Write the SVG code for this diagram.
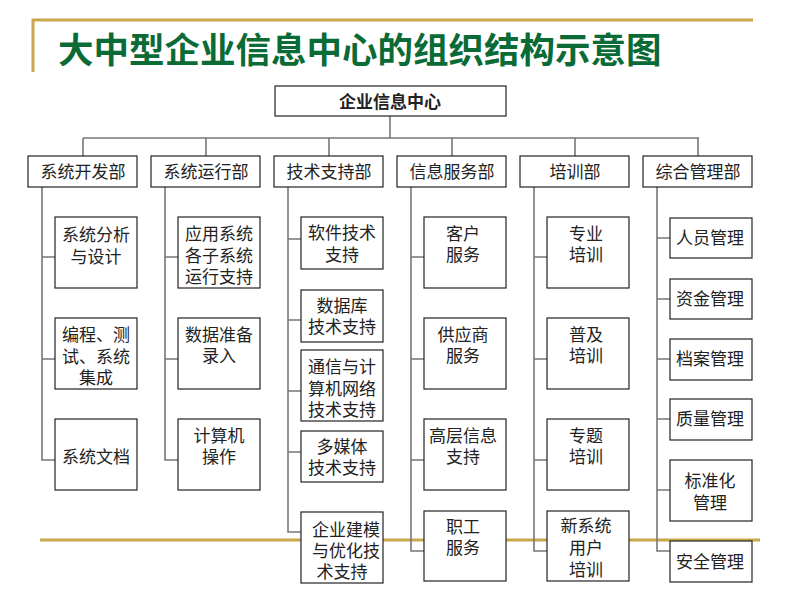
<svg xmlns="http://www.w3.org/2000/svg" width="800" height="600" viewBox="0 0 800 600">
<style>
.b{fill:#fff;stroke:#222;stroke-width:1.2}
.c{fill:none;stroke:#777;stroke-width:1.6}
.t{font-family:"Liberation Sans","Noto Sans CJK SC",sans-serif;font-size:17px;fill:#222;text-anchor:middle}
.g{stroke:#c8a84a;stroke-width:3;fill:none}
</style>
<rect width="800" height="600" fill="#fff"/>
<path class="g" d="M33,72V20H753M40,540H760"/>
<text x="58" y="63" font-family="'Noto Sans CJK SC',sans-serif" font-weight="bold" font-size="35.5" fill="#0a6b36">大中型企业信息中心的组织结构示意图</text>
<g id="connectors">
<path class="c" d="M390,116V138M83,138H699M83,138V156M206,138V156M329,138V156M452,138V156M575,138V156M698,138V156"/>
<path class="c" d="M42,187V460H55M42,257H55M42,359H55"/>
<path class="c" d="M165,187V460H178M165,257H178M165,359H178"/>
<path class="c" d="M288,187V532H301M288,239H301M288,320H301M288,391H301M288,452H301"/>
<path class="c" d="M411,187V551H424M411,257H424M411,359H424M411,460H424"/>
<path class="c" d="M534,187V551H547M534,257H547M534,359H547M534,460H547"/>
<path class="c" d="M657,187V551H670M657,238H670M657,299H670M657,359H670M657,419H670M657,490H670"/>
</g>
<g id="root"><rect class="b" x="275" y="86" width="231" height="30"/><text class="t" x="390" y="108" font-size="19" font-weight="bold">企业信息中心</text></g>
<g id="d1"><rect class="b" x="28" y="156" width="109" height="31"/><text class="t" x="83" y="178">系统开发部</text></g>
<g id="d2"><rect class="b" x="151" y="156" width="109" height="31"/><text class="t" x="206" y="178">系统运行部</text></g>
<g id="d3"><rect class="b" x="274" y="156" width="109" height="31"/><text class="t" x="329" y="178">技术支持部</text></g>
<g id="d4"><rect class="b" x="397" y="156" width="109" height="31"/><text class="t" x="452" y="178">信息服务部</text></g>
<g id="d5"><rect class="b" x="520" y="156" width="109" height="31"/><text class="t" x="575" y="178">培训部</text></g>
<g id="d6"><rect class="b" x="643" y="156" width="109" height="31"/><text class="t" x="698" y="178">综合管理部</text></g>

<g id="n11"><rect class="b" x="55" y="217" width="82" height="71"/><text class="t" x="96" y="241">系统分析</text><text class="t" x="96" y="263">与设计</text></g>
<g id="n12"><rect class="b" x="55" y="318" width="82" height="71"/><text class="t" x="96" y="341">编程、测</text><text class="t" x="96" y="363">试、系统</text><text class="t" x="96" y="384">集成</text></g>
<g id="n13"><rect class="b" x="55" y="419" width="82" height="71"/><text class="t" x="96" y="463">系统文档</text></g>

<g id="n21"><rect class="b" x="178" y="217" width="82" height="71"/><text class="t" x="219" y="240">应用系统</text><text class="t" x="219" y="262">各子系统</text><text class="t" x="219" y="283">运行支持</text></g>
<g id="n22"><rect class="b" x="178" y="318" width="82" height="71"/><text class="t" x="219" y="341">数据准备</text><text class="t" x="219" y="362">录入</text></g>
<g id="n23"><rect class="b" x="178" y="419" width="82" height="71"/><text class="t" x="219" y="442">计算机</text><text class="t" x="219" y="463">操作</text></g>

<g id="n31"><rect class="b" x="301" y="217" width="82" height="52"/><text class="t" x="342" y="239">软件技术</text><text class="t" x="342" y="261">支持</text></g>
<g id="n32"><rect class="b" x="301" y="290" width="82" height="52"/><text class="t" x="342" y="312">数据库</text><text class="t" x="342" y="333">技术支持</text></g>
<g id="n33"><rect class="b" x="301" y="350" width="82" height="71"/><text class="t" x="342" y="373">通信与计</text><text class="t" x="342" y="395">算机网络</text><text class="t" x="342" y="416">技术支持</text></g>
<g id="n34"><rect class="b" x="301" y="431" width="82" height="51"/><text class="t" x="342" y="453">多媒体</text><text class="t" x="342" y="474">技术支持</text></g>
<g id="n35"><rect class="b" x="301" y="512" width="82" height="71"/><text class="t" x="346" y="536">企业建模</text><text class="t" x="346" y="557">与优化技</text><text class="t" x="342" y="578">术支持</text></g>

<g id="n41"><rect class="b" x="424" y="217" width="82" height="71"/><text class="t" x="463" y="240">客户</text><text class="t" x="463" y="261">服务</text></g>
<g id="n42"><rect class="b" x="424" y="318" width="82" height="71"/><text class="t" x="463" y="341">供应商</text><text class="t" x="463" y="362">服务</text></g>
<g id="n43"><rect class="b" x="424" y="419" width="82" height="71"/><text class="t" x="463" y="442">高层信息</text><text class="t" x="463" y="463">支持</text></g>
<g id="n44"><rect class="b" x="424" y="511" width="82" height="70"/><text class="t" x="463" y="533">职工</text><text class="t" x="463" y="554">服务</text></g>

<g id="n51"><rect class="b" x="547" y="217" width="82" height="71"/><text class="t" x="586" y="240">专业</text><text class="t" x="586" y="261">培训</text></g>
<g id="n52"><rect class="b" x="547" y="318" width="82" height="71"/><text class="t" x="586" y="341">普及</text><text class="t" x="586" y="362">培训</text></g>
<g id="n53"><rect class="b" x="547" y="419" width="82" height="71"/><text class="t" x="586" y="442">专题</text><text class="t" x="586" y="463">培训</text></g>
<g id="n54"><rect class="b" x="547" y="511" width="82" height="70"/><text class="t" x="586" y="532">新系统</text><text class="t" x="586" y="554">用户</text><text class="t" x="586" y="576">培训</text></g>

<g id="n61"><rect class="b" x="670" y="218" width="82" height="40"/><text class="t" x="710" y="244">人员管理</text></g>
<g id="n62"><rect class="b" x="670" y="279" width="82" height="40"/><text class="t" x="710" y="305">资金管理</text></g>
<g id="n63"><rect class="b" x="670" y="339" width="82" height="41"/><text class="t" x="710" y="365">档案管理</text></g>
<g id="n64"><rect class="b" x="670" y="399" width="82" height="41"/><text class="t" x="710" y="425">质量管理</text></g>
<g id="n65"><rect class="b" x="670" y="460" width="82" height="61"/><text class="t" x="710" y="487">标准化</text><text class="t" x="710" y="509">管理</text></g>
<g id="n66"><rect class="b" x="670" y="541" width="82" height="41"/><text class="t" x="710" y="568">安全管理</text></g>
</svg>
